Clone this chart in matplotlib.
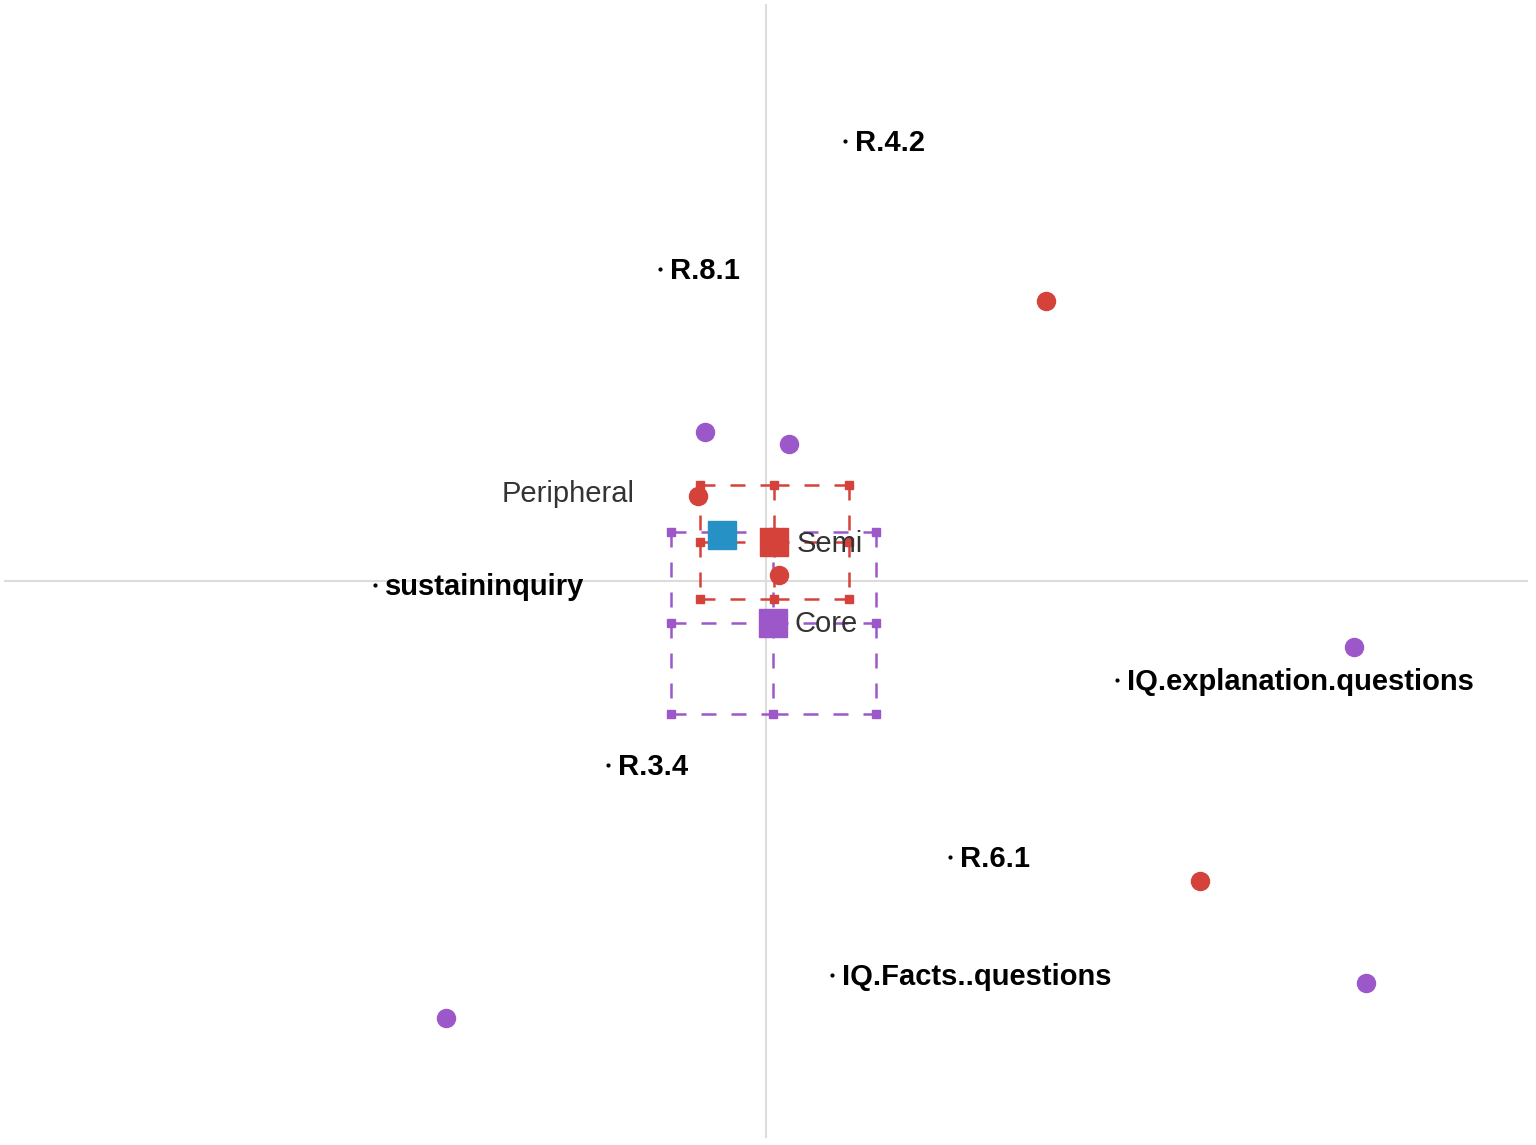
import matplotlib
matplotlib.use('Agg')
import matplotlib.pyplot as plt

plt.rcParams['font.family'] = ['Liberation Sans', 'DejaVu Sans']

red = '#d4423a'
purple = '#9c58c9'
blue = '#2591c4'

# network nodes (small dots + bold labels)
node_names = ['R.4.2', 'R.8.1', 'sustaininquiry', 'IQ.explanation.questions',
              'R.3.4', 'R.6.1', 'IQ.Facts..questions']
node_x = [0.79, -1.06, -3.91, 3.51, -1.58, 1.84, 0.66]
node_y = [4.40, 3.12, -0.04, -0.99, -1.84, -2.76, -3.94]

# unit points
semi_x = [2.80, 4.34, -0.68, 0.13]
semi_y = [2.80, -3.00, 0.85, 0.06]
core_x = [-0.61, 0.23, 5.88, 6.00, -3.20]
core_y = [1.49, 1.37, -0.66, -4.02, -4.37]

# group means
group_names = ['Semi', 'Core', 'Peripheral']
group_x = [0.08, 0.07, -0.44]
group_y = [0.39, -0.42, 0.46]
group_colors = [red, purple, blue]

# confidence boxes: (xmin, xmax, ymin, ymax)
semi_ci = (-0.66, 0.83, -0.18, 0.96)
core_ci = (-0.95, 1.10, -1.33, 0.49)


def ci_box(ax, ci, cx, cy, color):
    x0, x1, y0, y1 = ci
    segs = [((x0, cx), (y1, y1)), ((cx, x1), (y1, y1)),
            ((x0, cx), (y0, y0)), ((cx, x1), (y0, y0)),
            ((x0, x0), (y1, cy)), ((x0, x0), (cy, y0)),
            ((x1, x1), (y1, cy)), ((x1, x1), (cy, y0)),
            ((cx, cx), (y1, cy)), ((cx, cx), (cy, y0)),
            ((x0, cx), (cy, cy)), ((cx, x1), (cy, cy))]
    for xs, ys in segs:
        ax.plot(xs, ys, color=color, lw=1.8, dashes=(6, 6), zorder=2)
    px = [x0, cx, x1, x0, x1, x0, cx, x1]
    py = [y1, y1, y1, cy, cy, y0, y0, y0]
    ax.plot(px, py, 's', color=color, ms=6, zorder=3, lw=0)


fig = plt.figure(figsize=(15.36, 11.45), dpi=100)
ax = fig.add_axes([0, 0, 1, 1])
ax.set_xlim(-7.66, 7.70)
ax.set_ylim(-5.64, 5.81)
ax.axis('off')

ax.plot([0, 0], [-5.56, 5.76], color='#dcdcdc', lw=1.5, zorder=0)
ax.plot([-7.61, 7.61], [0, 0], color='#dcdcdc', lw=1.5, zorder=0)

ci_box(ax, semi_ci, group_x[0], group_y[0], red)
ci_box(ax, core_ci, group_x[1], group_y[1], purple)

ax.plot(semi_x, semi_y, 'o', color=red, ms=13, lw=0, zorder=4)
ax.plot(core_x, core_y, 'o', color=purple, ms=13, lw=0, zorder=4)

for gx, gy, c in zip(group_x, group_y, group_colors):
    ax.plot(gx, gy, 's', color=c, ms=20, zorder=5)

ax.text(group_x[0] + 0.23, group_y[0] - 0.02, 'Semi', fontsize=21,
        color='#333333', va='center', ha='left', zorder=6)
ax.text(group_x[1] + 0.22, group_y[1] - 0.01, 'Core', fontsize=21,
        color='#333333', va='center', ha='left', zorder=6)
ax.text(-1.31, 0.87, 'Peripheral', fontsize=21,
        color='#333333', va='center', ha='right', zorder=6)

ax.plot(node_x, node_y, 'o', color='black', ms=2, lw=0, zorder=6)
for nm, nx, ny in zip(node_names, node_x, node_y):
    ax.text(nx + 0.1, ny - 0.02, nm, fontsize=21, fontweight='bold',
            color='black', va='center', ha='left', zorder=6)

fig.savefig('out.png', dpi=100)
